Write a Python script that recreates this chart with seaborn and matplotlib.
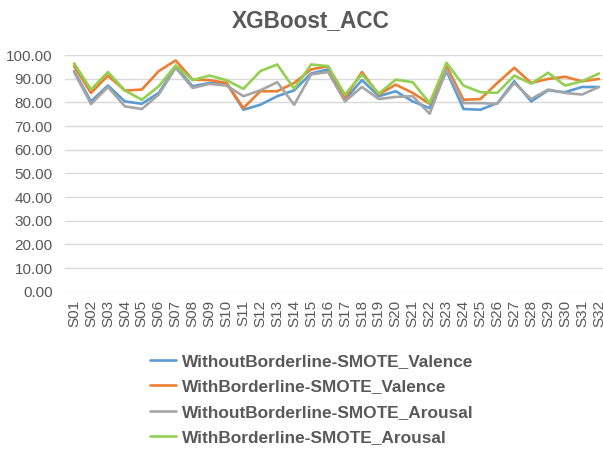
import numpy as np
import pandas as pd
import matplotlib
matplotlib.use('Agg')
import matplotlib.pyplot as plt
import seaborn as sns

# subjects S01..S32
subjects = [f"S{i:02d}" for i in range(1, 33)]

without_valence = [93.2, 80.4, 87.1, 80.4, 79.4, 84.0, 95.0, 86.8, 88.2, 88.2,
                   76.9, 79.0, 82.6, 85.1, 92.2, 93.9, 81.1, 89.4, 82.6, 84.7,
                   80.4, 77.6, 93.2, 77.2, 76.9, 79.7, 88.9, 80.4, 85.1, 84.3,
                   86.5, 86.5]
with_valence = [95.3, 84.0, 91.3, 85.0, 85.4, 93.2, 97.7, 89.6, 89.4, 88.2,
                77.6, 84.7, 84.7, 88.2, 93.9, 95.3, 81.8, 92.8, 83.3, 87.5,
                84.0, 79.4, 95.3, 81.1, 81.4, 88.2, 94.6, 88.2, 89.9, 90.8,
                88.9, 89.9]
without_arousal = [92.8, 79.3, 86.5, 78.3, 77.2, 83.3, 94.6, 86.1, 87.8, 87.1,
                   82.6, 85.1, 88.5, 79.0, 91.8, 92.8, 80.4, 86.5, 81.4, 82.3,
                   82.6, 75.2, 93.9, 79.7, 79.7, 79.4, 88.2, 81.4, 85.4, 84.0,
                   83.3, 86.5]
with_arousal = [96.5, 85.4, 92.8, 85.0, 81.1, 86.8, 95.6, 89.4, 91.3, 89.4,
                85.7, 93.2, 96.0, 85.7, 96.0, 95.3, 83.3, 91.8, 83.7, 89.6,
                88.5, 79.7, 96.7, 87.1, 84.3, 84.0, 91.3, 87.9, 92.5, 87.1,
                88.9, 92.2]

series_names = ["WithoutBorderline-SMOTE_Valence", "WithBorderline-SMOTE_Valence",
                "WithoutBorderline-SMOTE_Arousal", "WithBorderline-SMOTE_Arousal"]
series_values = [without_valence, with_valence, without_arousal, with_arousal]
colors = ["#5B9BD5", "#ED7D31", "#A5A5A5", "#92D050"]

rows = []
for name, vals in zip(series_names, series_values):
    for i, (s, v) in enumerate(zip(subjects, vals)):
        rows.append({"idx": i, "subject": s, "acc": v, "series": name})
df = pd.DataFrame(rows)

sns.set_theme(style="white")
plt.rcParams['font.family'] = ['Liberation Sans', 'DejaVu Sans']

fig = plt.figure(figsize=(6.03, 4.49), dpi=100)
ax = fig.add_axes([0.108, 0.35, 0.892, 0.5275])

sns.lineplot(data=df, x="idx", y="acc", hue="series", hue_order=series_names,
             palette=colors, linewidth=1.9, ax=ax, legend=False)

ax.set_ylim(0, 100)
ax.set_yticks(np.arange(0, 101, 10))
ax.set_yticklabels([f"{v:.2f}" for v in np.arange(0, 101, 10)], fontsize=11, color="#595959")
ax.set_xlim(-0.53, 31.24)
ax.set_xticks(range(len(subjects)))
ax.set_xticklabels(subjects, rotation=90, fontsize=11, color="#595959")
ax.set_xlabel("")
ax.set_ylabel("")
ax.grid(axis="y", color="#D9D9D9", linewidth=1)
ax.set_axisbelow(True)
for sp in ax.spines.values():
    sp.set_visible(False)
ax.tick_params(axis="y", length=0, pad=9)
ax.tick_params(axis="x", length=0, pad=6)

fig.text(0.515, 0.955, "XGBoost_ACC", ha="center", va="center",
         fontsize=16.3, fontweight="bold", color="#595959")

handles = [plt.Line2D([], [], color=c, linewidth=1.9) for c in colors]
leg = fig.legend(handles, series_names, loc="upper left", bbox_to_anchor=(0.237, 0.227),
                 frameon=False, fontsize=12.4, handlelength=1.55, handletextpad=0.3,
                 labelspacing=0.6, borderaxespad=0)
for t in leg.get_texts():
    t.set_fontweight("bold")
    t.set_color("#595959")

fig.savefig("out.png", dpi=100)
